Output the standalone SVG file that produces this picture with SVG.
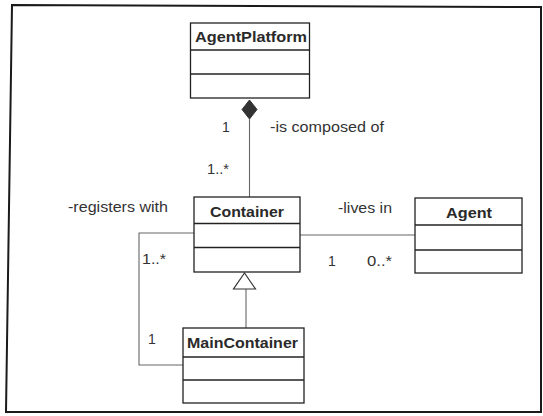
<svg xmlns="http://www.w3.org/2000/svg" width="543" height="416" viewBox="0 0 543 416">
<style>
.box{fill:#fff;stroke:#222;stroke-width:1.3}
.div{stroke:#222;stroke-width:1.3}
.title{font-family:"Liberation Sans",Arial,sans-serif;font-weight:bold;font-size:14px;fill:#2a2a2a}
.lbl{font-family:"Liberation Sans",Arial,sans-serif;font-size:14px;fill:#333}
.conn{fill:none;stroke:#666;stroke-width:1.1}
</style>
<rect width="543" height="416" fill="#fff"/>
<polygon points="12,5 541,7 541,412 6,412" fill="none" stroke="#1a1a1a" stroke-width="2"/>

<g id="connectors">
  <line class="conn" x1="249.5" y1="119" x2="249.5" y2="197"/>
  <polygon points="249.5,100 257,109.5 249.5,119 242,109.5" fill="#333" stroke="#333" stroke-width="1"/>
  <line class="conn" x1="300" y1="235" x2="415" y2="235" stroke="#444"/>
  <polyline class="conn" points="194,233 139,233 139,365 183,365"/>
  <line class="conn" x1="246" y1="289" x2="246" y2="328"/>
  <polygon points="244.5,273 233.5,289 255.5,289" fill="#fff" stroke="#333" stroke-width="1.2"/>
  <text class="lbl" x="222" y="132">1</text>
  <text class="lbl" x="270" y="132" textLength="114" lengthAdjust="spacingAndGlyphs">-is composed of</text>
  <text class="lbl" x="207" y="174" textLength="22" lengthAdjust="spacingAndGlyphs">1..*</text>
  <text class="lbl" x="68" y="212" textLength="100" lengthAdjust="spacingAndGlyphs">-registers with</text>
  <text class="lbl" x="338" y="213" textLength="54" lengthAdjust="spacingAndGlyphs">-lives in</text>
  <text class="lbl" x="328" y="266">1</text>
  <text class="lbl" x="367" y="266" textLength="25" lengthAdjust="spacingAndGlyphs">0..*</text>
  <text class="lbl" x="142" y="264" textLength="24" lengthAdjust="spacingAndGlyphs">1..*</text>
  <text class="lbl" x="148" y="344">1</text>
</g>

<g id="AgentPlatform">
  <rect class="box" x="190.5" y="23" width="119" height="75"/>
  <line class="div" x1="190.5" y1="50" x2="309.5" y2="50"/>
  <line class="div" x1="190.5" y1="74" x2="309.5" y2="74"/>
  <text class="title" x="195" y="42" textLength="112" lengthAdjust="spacingAndGlyphs">AgentPlatform</text>
</g>

<g id="Container">
  <rect class="box" x="194" y="197" width="106" height="75"/>
  <line class="div" x1="194" y1="223.5" x2="300" y2="223.5"/>
  <line class="div" x1="194" y1="247.5" x2="300" y2="247.5"/>
  <text class="title" x="210" y="217" textLength="74" lengthAdjust="spacingAndGlyphs">Container</text>
</g>

<g id="Agent">
  <rect class="box" x="415" y="198" width="107" height="75"/>
  <line class="div" x1="415" y1="225" x2="522" y2="225"/>
  <line class="div" x1="415" y1="250" x2="522" y2="250"/>
  <text class="title" x="446" y="218" textLength="46" lengthAdjust="spacingAndGlyphs">Agent</text>
</g>

<g id="MainContainer">
  <rect class="box" x="183" y="328" width="121" height="75"/>
  <line class="div" x1="183" y1="357" x2="304" y2="357"/>
  <line class="div" x1="183" y1="380" x2="304" y2="380"/>
  <text class="title" x="187" y="348" textLength="111" lengthAdjust="spacingAndGlyphs">MainContainer</text>
</g>
</svg>
